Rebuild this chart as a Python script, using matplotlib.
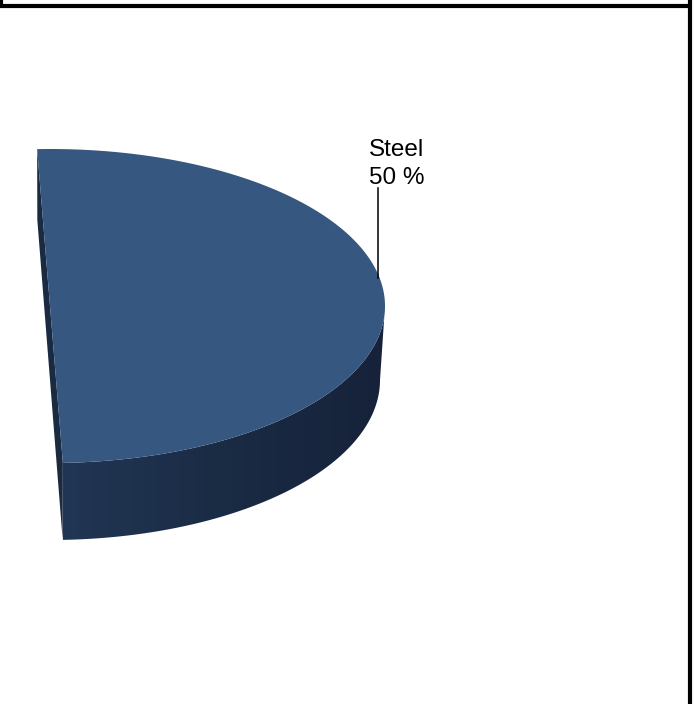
import numpy as np
import matplotlib
matplotlib.use("Agg")
import matplotlib.pyplot as plt
from matplotlib.patches import Polygon
from matplotlib.colors import LinearSegmentedColormap

# data
labels = ["Steel"]
shares = [50]
total = 100

top_color = "#36577f"
cut_color = "#1a2a40"
side_cmap = LinearSegmentedColormap.from_list("side", ["#213654", "#1a2b44", "#16223a"])

# 3d pie geometry in pixel space: top ellipse and (foreshortened) bottom ellipse
top_c, top_r = (50, 306), (335, 157)
bot_c, bot_r = (50, 380), (330, 160)
start = 92.2  # degrees, slices run clockwise from here
leader_at = 12  # angle of the leader line on the rim


def pt(t, c=top_c, r=top_r):
    a = np.radians(t)
    return c[0] + r[0] * np.cos(a), c[1] - r[1] * np.sin(a)


fig = plt.figure(figsize=(6.94, 7.04), dpi=100)
ax = fig.add_axes([0, 0, 1, 1])
ax.set_xlim(0, 694)
ax.set_ylim(704, 0)
ax.axis("off")

a0 = start
for lab, v in zip(labels, shares):
    a1 = a0 - 360.0 * v / total
    ts = np.linspace(a0, a1, 300)
    top = np.array([pt(t) for t in ts])

    # radial cut face at the end of the slice
    cut = [pt(a0), pt(a1), pt(a1, bot_c, bot_r), pt(a0, bot_c, bot_r)]
    ax.add_patch(Polygon(cut, closed=True, fc=cut_color, ec="none", zorder=1))

    # front side face, lighter on the left
    lo, hi = max(a1, -180), min(a0, 0)
    if hi > lo:
        fs = np.linspace(hi, lo, 300)
        upper = np.array([pt(t) for t in fs])
        lower = np.array([pt(t, bot_c, bot_r) for t in fs[::-1]])
        side = Polygon(np.vstack([upper, lower]), closed=True, fc="none", ec="none")
        ax.add_patch(side)
        x0, x1 = lower[:, 0].min(), upper[:, 0].max()
        grad = np.linspace(0, 1, 256).reshape(1, -1)
        im = ax.imshow(grad, cmap=side_cmap, aspect="auto",
                       extent=[x0, x1, lower[:, 1].max() + 2, upper[:, 1].min() - 2],
                       interpolation="bilinear", zorder=1.5)
        im.set_clip_path(side)

    # top face
    ax.add_patch(Polygon(np.vstack([top, [top_c]]), closed=True,
                         fc=top_color, ec="none", zorder=2))

    # label with leader line
    lx, ly = pt(leader_at)
    ax.plot([lx, lx], [ly + 5, 188], color="black", lw=1.1, zorder=3)
    ax.text(lx + 19, 156, lab, ha="center", va="baseline",
            fontsize=17.5, family="Liberation Sans", zorder=3)
    ax.text(lx + 19, 184, f"{v} %", ha="center", va="baseline",
            fontsize=17.5, family="Liberation Sans", zorder=3)

    a0 = a1

# frame lines around the picture
ax.plot([0, 691], [5.5, 5.5], color="black", lw=3, solid_capstyle="butt")
ax.plot([1.5, 1.5], [0, 7], color="black", lw=3, solid_capstyle="butt")
ax.plot([690.5, 690.5], [0, 704], color="black", lw=3, solid_capstyle="butt")

fig.savefig("out.png", dpi=100)
